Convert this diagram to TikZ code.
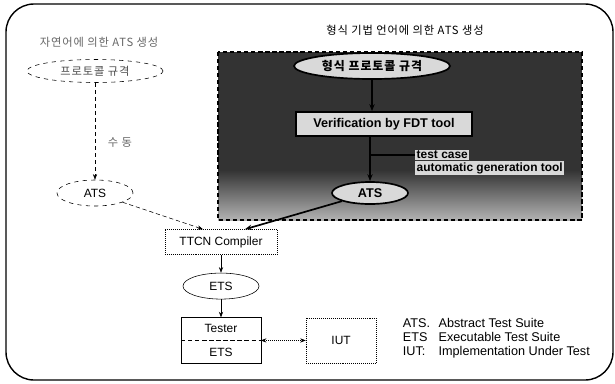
\documentclass[tikz,border=0pt]{standalone}
\usepackage{fontspec}
\setmainfont{Liberation Sans}
\newfontfamily\kor[LetterSpace=8]{Noto Sans CJK KR}
\usepackage{tikz}
\usetikzlibrary{shapes.geometric, arrows.meta, positioning}

\begin{document}
\begin{tikzpicture}[
  x=0.025cm, y=-0.025cm,
  node distance=0.45cm and 1.125cm,
  box/.style={rectangle, draw, densely dotted, minimum width=2.8cm,
              minimum height=0.625cm, font=\fontsize{8.5}{10}\selectfont},
  cell/.style={rectangle, minimum width=1.975cm, minimum height=0.5625cm,
               inner sep=0pt, font=\fontsize{8.5}{10}\selectfont},
  oval/.style={ellipse, draw, minimum width=1.9cm, minimum height=0.65cm,
               inner sep=0pt, font=\fontsize{8.5}{10}\selectfont},
  kortext/.style={font=\kor\fontsize{8}{10}\selectfont},
  fdt/.style={draw, line width=1.2pt, fill=black!15, inner sep=1pt,
              font=\bfseries\fontsize{9}{10}\selectfont},
  lbl/.style={fill=black!15, inner sep=1pt,
              font=\bfseries\fontsize{8.5}{10}\selectfont},
  arrow/.style={-{Stealth[length=4pt]}, thin},
  fatarrow/.style={-{Stealth[length=5pt]}, line width=1.2pt},
]
  \useasboundingbox (0,0) rectangle (615,383);
  % Frame
  \draw[line width=1pt, rounded corners=0.7cm] (6,4) rectangle (613,380);

  % Formal method area
  \fill[black!80] (218,52) rectangle (582,171);
  \shade[top color=black!80, bottom color=black!30] (218,170) rectangle (582,220);
  \draw[line width=1.2pt, dash pattern=on 3pt off 2pt] (218,52) rectangle (582,220);

  % Titles
  \node[kortext, text=black!60] (ltitle) at (99,42) {자연어에 의한 ATS 생성};
  \node[kortext] (rtitle) at (405,30) {형식 기법 언어에 의한 ATS 생성};

  % Natural language side
  \node[oval, dashed, minimum width=3.4cm, minimum height=0.575cm,
        kortext, text=black!70] (lproto) at (95,71) {프로토콜 규격};
  \node[oval, dashed] (lats) at (95,193) {ATS};
  \node[kortext, text=black!60] (manual) at (120,142) {수 동};

  % Formal language side
  \node[fdt, ellipse, minimum width=3.9cm, minimum height=0.65cm,
        font=\kor\bfseries\fontsize{8.5}{10}\selectfont] (rproto) at (372,66) {형식 프로토콜 규격};
  \node[fdt, minimum width=4.4cm, minimum height=0.6cm] (verif) at (384,124) {Verification by FDT tool};
  \node[fdt, ellipse, minimum width=1.9cm, minimum height=0.55cm] (rats) at (370,193) {ATS};
  \node[lbl, anchor=west] (gen1) at (415,155) {test case};
  \node[lbl, anchor=north west] (gen2) at (gen1.south west) {automatic generation tool};

  % Compiler and tester
  \node[box] (ttcn) at (221,242) {TTCN Compiler};
  \node[oval, below=of ttcn] (ets) {ETS};
  \node[cell, below=of ets] (tester) {Tester};
  \node[cell, below=0pt of tester] (etscell) {ETS};
  \draw[thin] (tester.north west) rectangle (etscell.south east);
  \draw[densely dashed] (tester.south west) -- (tester.south east);
  \node[box, minimum width=1.75cm, minimum height=1.125cm,
        right=of tester.south east] (iut) {IUT};

  % Legend
  \node[anchor=west, font=\fontsize{9}{10}\selectfont] (legend) at (398,339) {%
    \begin{tabular}{@{}l@{\hspace{6pt}}l@{}}
      ATS. & Abstract Test Suite\\
      ETS  & Executable Test Suite\\
      IUT: & Implementation Under Test
    \end{tabular}};

  % Arrows
  \draw[arrow, densely dashed] (lproto) -- (lats);
  \draw[arrow, densely dashed] (lats) -- ([xshift=-0.45cm]ttcn.north);
  \draw[fatarrow] (rproto) -- (rproto.south |- verif.north);
  \draw[fatarrow] (verif.south -| rats) -- (rats);
  \draw[line width=1.2pt] (gen1.west) -- (gen1.west -| rats);
  \draw[fatarrow] (rats) -- ([xshift=0.6cm]ttcn.north);
  \draw[arrow] (ttcn) -- (ets);
  \draw[arrow] (ets) -- (tester);
  \draw[{Stealth[length=4pt]}-{Stealth[length=4pt]}, densely dotted] (tester.south east) -- (iut);
\end{tikzpicture}
\end{document}
